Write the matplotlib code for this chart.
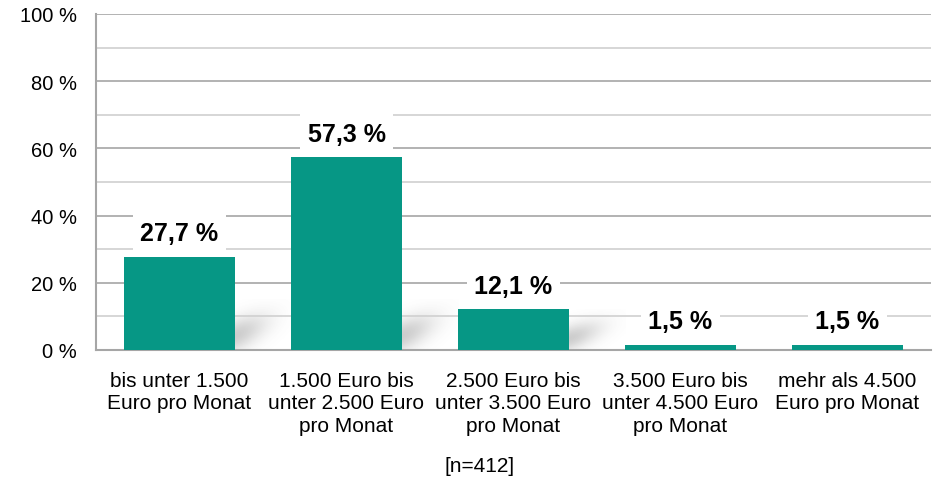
import numpy as np
import matplotlib.pyplot as plt
from matplotlib.ticker import MultipleLocator

categories = ["bis unter 1.500\nEuro pro Monat",
              "1.500 Euro bis\nunter 2.500 Euro\npro Monat",
              "2.500 Euro bis\nunter 3.500 Euro\npro Monat",
              "3.500 Euro bis\nunter 4.500 Euro\npro Monat",
              "mehr als 4.500\nEuro pro Monat"]
values = [27.7, 57.3, 12.1, 1.5, 1.5]
value_labels = ["27,7 %", "57,3 %", "12,1 %", "1,5 %", "1,5 %"]
y_ticks = [0, 20, 40, 60, 80, 100]

plt.rcParams['font.family'] = ['Liberation Sans', 'DejaVu Sans']

fig = plt.figure(figsize=(9.33, 4.81), dpi=100)
ax = fig.add_axes([96 / 933, 1 - 351 / 481, 835 / 933, 336 / 481])

bar_w = 0.665
x = range(len(values))
ax.bar(x, values, width=bar_w, color='#069785', zorder=3)

# soft drop shadow to the right of the taller bars
uu, vv = np.meshgrid(np.linspace(0, 1, 80), np.linspace(0, 1, 60))
shade = 0.30 * np.exp(-(uu / 0.55) ** 2) * np.exp(-((vv - 0.28 - 0.45 * uu) / 0.32) ** 2)
rgba = np.zeros(uu.shape + (4,))
rgba[..., :3] = 0.35
rgba[..., 3] = shade
for i, v in enumerate(values):
    if v > 5:
        sh = min(v, 15)
        ax.imshow(rgba, extent=(i + bar_w / 2, i + bar_w / 2 + 0.34, 0, sh),
                  origin='lower', aspect='auto', zorder=0.5, interpolation='bilinear')

for i, v in enumerate(values):
    ax.text(i, v + 5, value_labels[i], ha='center', va='baseline', fontsize=18,
            fontweight='bold', color='black', zorder=4,
            bbox=dict(boxstyle='square,pad=0.3', facecolor='white', edgecolor='none'))

ax.set_xlim(-0.5, 4.5)
ax.set_ylim(0, 100)
ax.set_yticks(y_ticks)
ax.set_yticklabels([f"{t} %" for t in y_ticks], fontsize=14.5)
ax.yaxis.set_minor_locator(MultipleLocator(10))
ax.grid(axis='y', which='major', color='#a6a6a6', linewidth=1.2, zorder=1)
ax.grid(axis='y', which='minor', color='#d0d0d0', linewidth=1.2, zorder=1)
ax.set_xticks(list(x))
ax.set_xticklabels(categories, fontsize=15, va='top', linespacing=1.24)
ax.tick_params(axis='x', length=0, pad=15)
ax.tick_params(axis='y', length=0, pad=14)
ax.tick_params(axis='y', which='minor', length=0)

for s in ['top', 'right']:
    ax.spines[s].set_visible(False)
ax.spines['left'].set_color('#a6a6a6')
ax.spines['bottom'].set_color('#a6a6a6')
ax.spines['left'].set_linewidth(1.5)
ax.spines['bottom'].set_linewidth(1.5)

fig.text(480 / 933, 1 - 467 / 481, "[n=412]", ha='center', va='center', fontsize=15)

fig.savefig('out.png', dpi=100)
